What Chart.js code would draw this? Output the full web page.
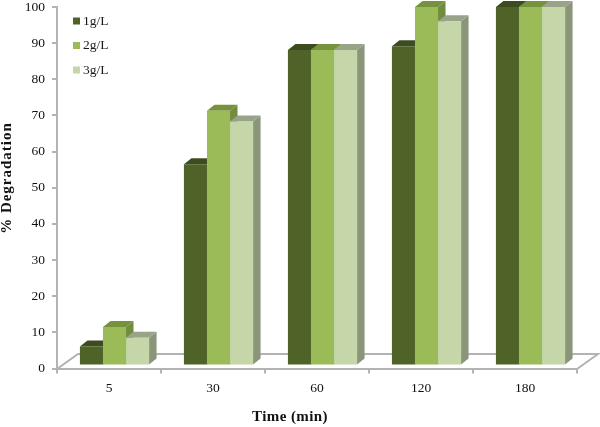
<!DOCTYPE html>
<html>
<head>
<meta charset="utf-8">
<script src="https://cdn.jsdelivr.net/npm/chart.js@4"></script>
<style>
  body { margin: 0; background: #fff; }
  canvas { display: block; }
</style>
</head>
<body>
<canvas id="chart" width="600" height="427"></canvas>
<script>
const categories = ['5', '30', '60', '120', '180'];
const oneGram = [5, 56, 88, 89, 100];
const twoGram = [10.5, 71, 88, 100, 100];
const threeGram = [7.5, 68, 88, 96, 100];
const yTicks = [0, 10, 20, 30, 40, 50, 60, 70, 80, 90, 100];

const FONT = '"Liberation Serif", serif';
const AXIS = '#b3b3b3';
const DX = 7.5, DY = 6;          // 3d depth of the bars
const SHIFT = 5.5;               // bars sit forward of the category centre
const FLOOR_DX = 21, FLOOR_DY = 15;

const shades = [
    { front: '#4f6228', top: '#3d4c1f', side: '#3f4f20' },
    { front: '#9bbb59', top: '#76923c', side: '#728c3e' },
    { front: '#c5d6a8', top: '#98a38a', side: '#8a957a' }
];

function poly(ctx, pts, fill) {
    ctx.beginPath();
    pts.forEach((p, i) => i ? ctx.lineTo(p[0], p[1]) : ctx.moveTo(p[0], p[1]));
    ctx.closePath();
    ctx.fillStyle = fill;
    ctx.fill();
}

const bars3d = {
    id: 'bars3d',
    afterDatasetsUpdate(chart) {
        chart.getSortedVisibleDatasetMetas().forEach(meta => {
            meta.data.forEach(bar => { bar.x += SHIFT; });
        });
    },
    beforeDatasetsDraw(chart) {
        const ctx = chart.ctx;
        const a = chart.chartArea;

        // floor
        const b = a.bottom + 0.5;
        ctx.strokeStyle = AXIS;
        ctx.lineWidth = 2;
        ctx.beginPath();
        ctx.moveTo(a.left, b);
        ctx.lineTo(a.left + FLOOR_DX, b - FLOOR_DY);
        ctx.lineTo(a.right + FLOOR_DX, b - FLOOR_DY);
        ctx.lineTo(a.right, b);
        ctx.stroke();

        // tops and sides, left to right, fronts come after from the library
        categories.forEach((c, i) => {
            shades.forEach((s, d) => {
                const bar = chart.getDatasetMeta(d).data[i];
                const half = bar.width / 2;
                const l = bar.x - half, r = bar.x + half;
                poly(ctx, [[r, bar.y], [r + DX, bar.y - DY], [r + DX, bar.base - DY], [r, bar.base]], s.side);
                poly(ctx, [[l, bar.y], [l + DX, bar.y - DY], [r + DX, bar.y - DY], [r, bar.y]], s.top);
            });
        });
    },
    afterDraw(chart) {
        const ctx = chart.ctx;

        // legend
        ctx.textBaseline = 'middle';
        ctx.textAlign = 'left';
        ctx.font = '13.5px ' + FONT;
        chart.data.datasets.forEach((ds, d) => {
            const y = 21 + d * 24.5;
            ctx.fillStyle = ds.backgroundColor;
            ctx.fillRect(73, y - 3.5, 7, 7);
            ctx.fillStyle = '#1a1a1a';
            ctx.fillText(ds.label, 83, y);
        });

        // axis titles
        ctx.fillStyle = '#111';
        ctx.font = 'bold 15px ' + FONT;
        ctx.textAlign = 'center';
        ctx.letterSpacing = '0.4px';
        ctx.fillText('Time (min)', 290, 417);
        ctx.save();
        ctx.translate(7, 178);
        ctx.rotate(-Math.PI / 2);
        ctx.letterSpacing = '1px';
        ctx.fillText('% Degradation', 0, 0);
        ctx.restore();
        ctx.letterSpacing = '0px';
    }
};

new Chart(document.getElementById('chart').getContext('2d'), {
    type: 'bar',
    data: {
        labels: categories,
        datasets: [
            { label: '1g/L', data: oneGram, backgroundColor: shades[0].front, yAxisID: 'yBars' },
            { label: '2g/L', data: twoGram, backgroundColor: shades[1].front, yAxisID: 'yBars' },
            { label: '3g/L', data: threeGram, backgroundColor: shades[2].front, yAxisID: 'yBars' }
        ]
    },
    options: {
        responsive: false,
        animation: false,
        categoryPercentage: 0.665,
        barPercentage: 1,
        layout: { padding: { top: 7, right: 23, left: 0, bottom: 0 } },
        plugins: { legend: { display: false }, tooltip: { enabled: false } },
        scales: {
            x: {
                border: { color: AXIS, width: 2 },
                grid: { drawOnChartArea: false, color: AXIS, tickLength: 5, lineWidth: 2 },
                ticks: { color: '#111', font: { family: FONT, size: 13.5 }, padding: 7 },
                afterFit(scale) { scale.height = 58.5; }
            },
            y: {
                min: 0,
                max: 100,
                border: { color: AXIS, width: 2 },
                grid: { drawOnChartArea: false, color: AXIS, tickLength: 5, lineWidth: 2 },
                afterBuildTicks(scale) { scale.ticks = yTicks.map(v => ({ value: v })); },
                ticks: { color: '#111', font: { family: FONT, size: 13.5 }, padding: 7 },
                afterFit(scale) {
                    scale.width = 57;
                    scale.paddingTop = 0;
                }
            },
            // the bars stand a little in front of the axis, so their zero is higher up
            yBars: { display: false, min: -1.12, max: 100 }
        }
    },
    plugins: [bars3d]
});
</script>
</body>
</html>
